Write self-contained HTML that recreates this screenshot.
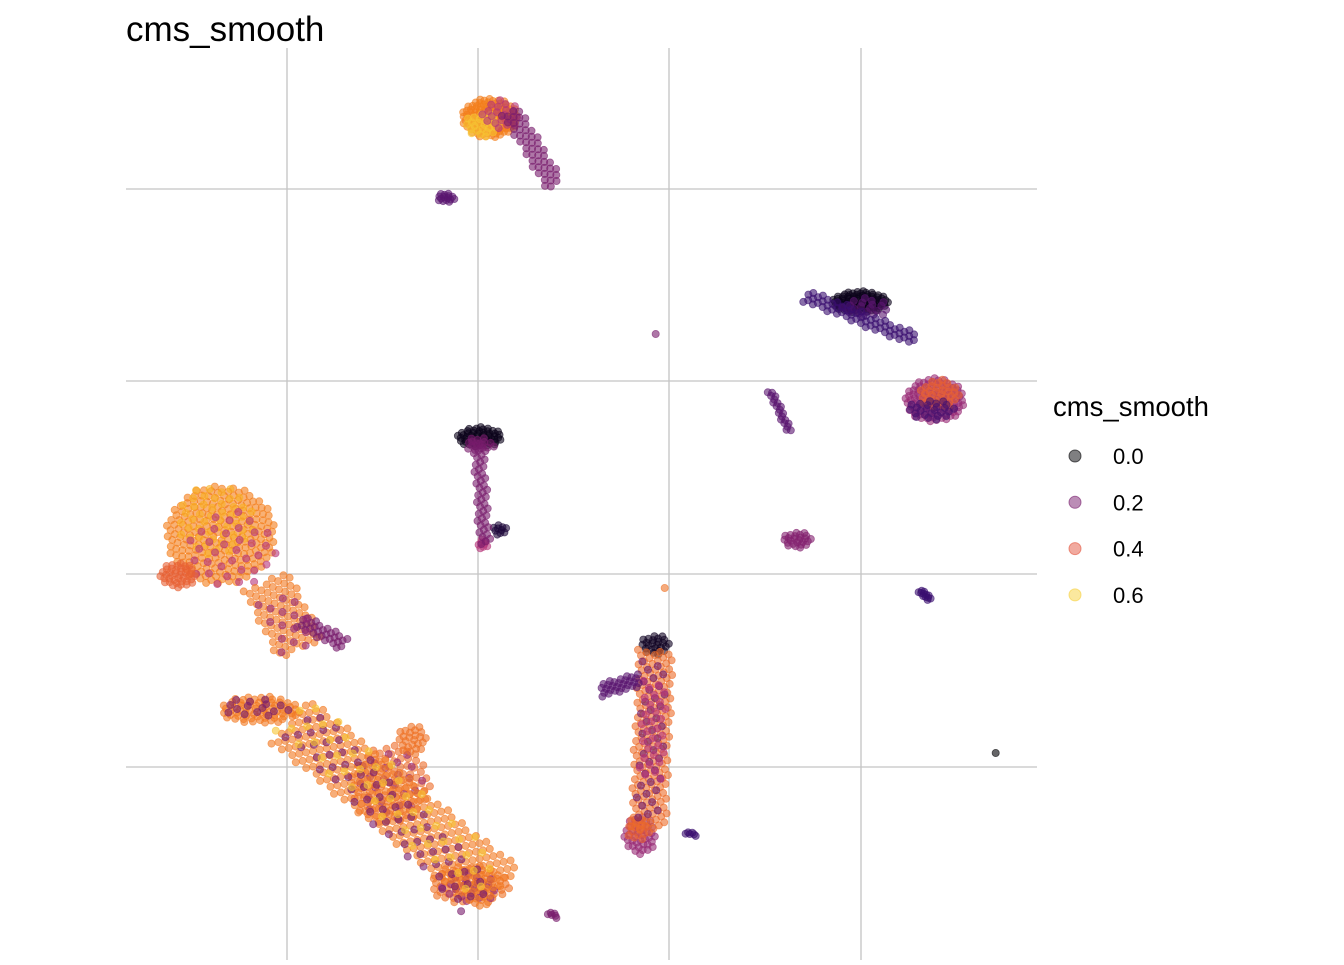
<!DOCTYPE html>
<html><head><meta charset="utf-8"><style>
body{margin:0;background:#fff;font-family:"Liberation Sans",sans-serif}
</style></head><body>
<svg id="chart" width="1344" height="960" xmlns="http://www.w3.org/2000/svg">
<rect width="1344" height="960" fill="#fff"/>
<g id="grid"></g>
<g id="pts"></g>
<text x="126" y="41" font-size="35" fill="#000">cms_smooth</text>
<g id="legend">
<text x="1053" y="416" font-size="27.5">cms_smooth</text>
</g>
</svg>
<script>
const xTicks=[16.1,35.2,54.3,73.5];
const yTicks=[19.3,38.6,57.9,77.1];
const legendValues=[0.0,0.2,0.4,0.6];
const legendLabels=["0.0","0.2","0.4","0.6"];
// blobs: [cx, cy, rx, ry, value, count]
const blobs=[
[36.4,84.2,2.8,2.0,0.47,120],[35.6,83.5,1.8,1.2,0.58,25],[37.5,84.5,2.0,1.5,0.3,20],
[32.0,76.2,0.9,0.5,0.15,15],[52.9,62.6,0.1,0.1,0.2,1],
[73.4,65.8,2.8,1.1,0.02,90],[74.0,65.2,2.5,1.0,0.15,20],
[80.9,56.0,3.0,2.2,0.25,110],[81.3,56.6,2.0,1.5,0.42,35],[80.5,55.0,2.5,1.0,0.12,25],
[35.4,52.3,2.3,1.0,0.02,55],[35.4,51.5,1.5,0.8,0.2,15],[37.4,43.0,0.7,0.6,0.05,10],[35.7,41.6,0.6,0.5,0.3,8],
[67.1,42.0,1.5,0.8,0.22,25],[53.8,37.2,0.1,0.1,0.45,1],[86.9,20.7,0.1,0.1,0.0,1],
[52.9,31.5,1.5,1.0,0.03,25],[51.4,12.5,1.6,2.0,0.25,40],[51.2,13.0,1.2,1.2,0.42,15],
[9.5,42.5,5.5,5.0,0.47,230],[9.0,44.0,4.0,3.5,0.55,50],[10.5,41.0,4.5,4.0,0.3,35],[5.2,38.5,1.8,1.3,0.42,40],
[13.4,25.0,4.0,1.4,0.46,70],[13.0,25.2,3.5,1.0,0.2,15],[26.4,17.5,4.0,4.0,0.44,90],[26.4,17.5,3.5,3.5,0.25,25],[28.6,22.0,1.5,1.5,0.45,25],
[34.4,7.5,4.0,2.0,0.45,70],[34.4,7.2,3.0,1.5,0.25,20]
];
// segments: [x1, y1, x2, y2, width, value, count]
const segments=[
[38.4,85.0,42.9,77.5,2.0,0.2,50],
[67.9,66.5,78.9,62.0,1.4,0.1,60],
[64.4,57.0,66.4,52.8,0.6,0.15,20],
[35.2,52.0,35.9,41.5,1.2,0.2,45],
[79.4,37.0,80.4,36.0,0.5,0.1,12],
[55.9,12.8,57.1,12.5,0.3,0.1,6],
[42.2,4.8,43.2,4.3,0.4,0.2,6],
[53.0,31.0,52.2,13.0,3.6,0.44,160],[52.9,30.0,52.2,14.0,2.5,0.18,40],[53.0,28.0,52.4,18.0,2.5,0.3,30],
[47.4,27.0,51.4,28.0,1.4,0.15,30],
[14.0,38.0,17.4,31.0,5.0,0.46,80],[17.4,34.0,21.9,31.5,1.5,0.2,30],[15.0,36.5,17.5,31.0,4.0,0.25,15],
[16.4,24.0,37.4,7.0,6.0,0.46,300],[17.4,24.0,35.4,6.0,4.5,0.2,70],[16.4,25.0,36.4,8.0,5.0,0.58,50]
];
const X0=126,X1=1037,Y0=960,Y1=48;
const xs=v=>X0+v/91.1*(X1-X0);
const ys=v=>Y0-v/91.2*(Y0-Y1);
const stops=[[0,[0,0,4]],[0.1,[59,15,112]],[0.2,[120,28,109]],[0.3,[181,54,122]],[0.4,[228,86,63]],[0.5,[249,142,9]],[0.6,[247,209,61]],[0.7,[252,255,164]]];
function col(v){v=Math.max(0,Math.min(0.7,v));for(let i=0;i<stops.length-1;i++){const a=stops[i],b=stops[i+1];if(v<=b[0]){const t=(v-a[0])/(b[0]-a[0]);return 'rgb('+a[1].map((c,k)=>Math.round(c+(b[1][k]-c)*t)).join(',')+')';}}return 'rgb(252,255,164)';}
const NS='http://www.w3.org/2000/svg';
const grid=document.getElementById('grid');
xTicks.forEach(t=>{const l=document.createElementNS(NS,'line');l.setAttribute('x1',xs(t));l.setAttribute('x2',xs(t));l.setAttribute('y1',Y1);l.setAttribute('y2',Y0);l.setAttribute('stroke','#c4c4c4');l.setAttribute('stroke-width','1.3');


grid.appendChild(l);});
yTicks.forEach(t=>{const l=document.createElementNS(NS,'line');l.setAttribute('y1',ys(t));l.setAttribute('y2',ys(t));l.setAttribute('x1',X0);l.setAttribute('x2',X1);l.setAttribute('stroke','#c4c4c4');l.setAttribute('stroke-width','1.3');


grid.appendChild(l);});
const pts=document.getElementById('pts');
function dot(x,y,v){const c=document.createElementNS(NS,'circle');c.setAttribute('cx',xs(x).toFixed(1));c.setAttribute('cy',ys(y).toFixed(1));c.setAttribute('r','3.6');c.setAttribute('fill',col(v));c.setAttribute('fill-opacity','0.6');c.setAttribute('stroke',col(v));c.setAttribute('stroke-opacity','0.6');c.setAttribute('stroke-width','0.8');


pts.appendChild(c);}
blobs.forEach(b=>{const[cx,cy,rx,ry,v,n]=b;for(let i=0;i<n;i++){const r=Math.sqrt((i+0.5)/n),th=i*2.39996;dot(cx+rx*r*Math.cos(th),cy+ry*r*Math.sin(th),v);}});
segments.forEach(s=>{const[x1,y1,x2,y2,w,v,n]=s;const dx=x2-x1,dy=y2-y1,L=Math.hypot(dx,dy)||1,px=-dy/L,py=dx/L;for(let i=0;i<n;i++){const t=(i+0.5)/n,o=w*(((i*0.618034)%1)-0.5);dot(x1+dx*t+px*o,y1+dy*t+py*o,v);}});
const lg=document.getElementById('legend');
legendValues.forEach((v,i)=>{const y=456+i*46.3;const c=document.createElementNS(NS,'circle');c.setAttribute('cx',1075);c.setAttribute('cy',y);c.setAttribute('r',6);c.setAttribute('fill',col(v));c.setAttribute('fill-opacity','0.5');c.setAttribute('stroke',col(v));c.setAttribute('stroke-opacity','0.6');


lg.appendChild(c);
const t=document.createElementNS(NS,'text');t.setAttribute('x',1113);t.setAttribute('y',y+8);t.setAttribute('font-size','22');t.textContent=legendLabels[i];


lg.appendChild(t);});
</script>
</body></html>
